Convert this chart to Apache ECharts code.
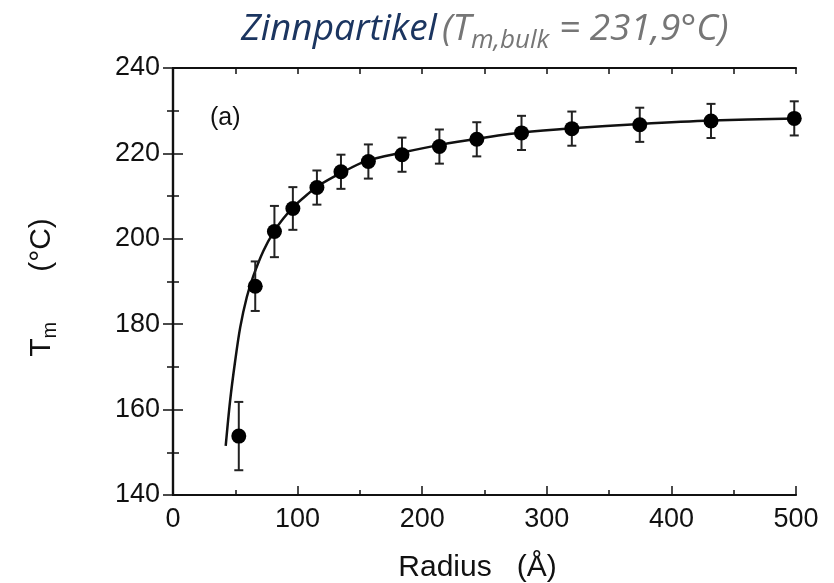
<!DOCTYPE html>
<html><head><meta charset="utf-8">
<script src="https://cdn.jsdelivr.net/npm/echarts@6/dist/echarts.min.js"></script>
<style>html,body{margin:0;padding:0;background:#fff}#c{width:834px;height:583px}</style>
</head><body><div id="c"></div>
<script>
const radius = [52.8, 66, 81.4, 96.2, 115.5, 134.8, 156.8, 183.8, 213.8, 243.8, 279.7, 320.1, 374.6, 431.8, 498.6];
const tm     = [153.8, 188.9, 201.7, 207.1, 212.0, 215.7, 218.1, 219.7, 221.6, 223.3, 224.8, 225.8, 226.7, 227.6, 228.2];
const tmErr  = [8, 5.8, 6, 5, 4, 4, 4, 4, 4, 4, 4, 4, 4, 4, 4];
const fitRadius = [42.3, 45.8, 49.8, 53.9, 59.2, 64.5, 72.6, 80.6, 88.7, 96.7, 107.5, 115.5, 134.2, 155.7, 184, 214, 245, 280, 320, 375, 432, 500];
const fitTm     = [151.5, 162, 171.2, 179.2, 186.3, 191.3, 197.2, 201.5, 204.8, 207.5, 210.3, 212.2, 215.3, 218.3, 220.2, 222, 223.5, 224.9, 225.9, 226.9, 227.7, 228.2];
const xTicks = [0, 100, 200, 300, 400, 500];
const yTicks = [140, 160, 180, 200, 220, 240];

const chart = echarts.init(document.getElementById('c'), null, {renderer: 'canvas'});
const axisFont = {fontFamily: 'Liberation Sans', fontSize: 27, color: '#111'};
const lineStyle = {color: '#111', width: 2.2};
const option = {
  animation: false,
  title: {
    text: '{a|Zinnpartikel} {b|(T}{s|m,bulk}{b| = 231,9°C)}',
    left: 236, top: -1,
    textStyle: {
      rich: {
        a: {fontFamily: 'Open Sans', fontStyle: 'italic', fontWeight: 'normal', fontSize: 37, color: '#1b3560'},
        b: {fontFamily: 'Open Sans', fontStyle: 'italic', fontWeight: 'normal', fontSize: 37, color: '#767676'},
        s: {fontFamily: 'Open Sans', fontStyle: 'italic', fontWeight: 'normal', fontSize: 26, color: '#767676', padding: [24, 0, 0, 0]}
      }
    }
  },
  grid: {left: 173, right: 38, top: 68, bottom: 88, containLabel: false, outerBoundsMode: 'none'},
  xAxis: [{
    type: 'value', min: xTicks[0], max: xTicks[xTicks.length - 1], interval: 100,
    axisLine: {lineStyle}, splitLine: {show: false},
    axisTick: {inside: true, length: 9, lineStyle: {color: '#111', width: 1.5}},
    minorTick: {show: true, splitNumber: 2, length: 5, lineStyle: {color: '#111', width: 1.5}},
    axisLabel: Object.assign({margin: 11}, axisFont),
    name: 'Radius   (Å)', nameLocation: 'middle', nameGap: 58,
    nameTextStyle: {fontFamily: 'Liberation Sans', fontSize: 30, color: '#111', padding: [0, 14, 0, 0]}
  }, {
    type: 'value', position: 'top', min: 0, max: 500, interval: 50,
    axisLine: {lineStyle}, splitLine: {show: false}, axisLabel: {show: false},
    axisTick: {inside: true, length: 6, lineStyle: {color: '#111', width: 1.5}}
  }],
  yAxis: [{
    type: 'value', min: yTicks[0], max: yTicks[yTicks.length - 1], interval: 20,
    axisLine: {show: true, lineStyle}, splitLine: {show: false},
    axisTick: {show: true, inside: true, length: 10, lineStyle: {color: '#111', width: 1.5}},
    minorTick: {show: true, splitNumber: 2, length: 6, lineStyle: {color: '#111', width: 1.5}},
    axisLabel: Object.assign({margin: 13}, axisFont),
    name: 'T{s|m}      (°C)', nameLocation: 'middle', nameGap: 113, nameRotate: 90,
    nameTextStyle: {fontFamily: 'Liberation Sans', fontSize: 30, color: '#111', padding: [0, 12, 0, 0],
      rich: {s: {fontFamily: 'Liberation Sans', fontSize: 20, color: '#111', padding: [16, 0, 0, 0]}}}
  }, {
    type: 'value', position: 'right', min: 140, max: 240, interval: 20,
    axisLine: {show: true, lineStyle}, splitLine: {show: false}, axisLabel: {show: false},
    axisTick: {show: true, inside: true, length: 10, lineStyle: {color: '#111', width: 1.5}},
    minorTick: {show: true, splitNumber: 2, length: 6, lineStyle: {color: '#111', width: 1.5}}
  }],
  graphic: [{
    type: 'text', left: 210, top: 106,
    style: {text: '(a)', fontFamily: 'Liberation Sans', fontSize: 25, fill: '#111'}
  }],
  series: [{
    type: 'line', data: fitRadius.map((r, i) => [r, fitTm[i]]), smooth: 0.3,
    showSymbol: false, lineStyle: {color: '#111', width: 2.5}, z: 2
  }, {
    type: 'custom', z: 3, clip: false,
    data: radius.map((r, i) => [r, tm[i] - tmErr[i], tm[i] + tmErr[i]]),
    renderItem: (params, api) => {
      const lo = api.coord([api.value(0), api.value(1)]);
      const hi = api.coord([api.value(0), api.value(2)]);
      const w = 4.5;
      const st = {stroke: '#222', lineWidth: 2};
      return {type: 'group', children: [
        {type: 'line', shape: {x1: lo[0], y1: lo[1], x2: hi[0], y2: hi[1]}, style: st},
        {type: 'line', shape: {x1: lo[0] - w, y1: lo[1], x2: lo[0] + w, y2: lo[1]}, style: st},
        {type: 'line', shape: {x1: hi[0] - w, y1: hi[1], x2: hi[0] + w, y2: hi[1]}, style: st}
      ]};
    }
  }, {
    type: 'scatter', z: 4, clip: false, symbol: 'circle', symbolSize: 15,
    itemStyle: {color: '#000', opacity: 1},
    data: radius.map((r, i) => [r, tm[i]])
  }]
};
chart.setOption(option);
</script></body></html>
